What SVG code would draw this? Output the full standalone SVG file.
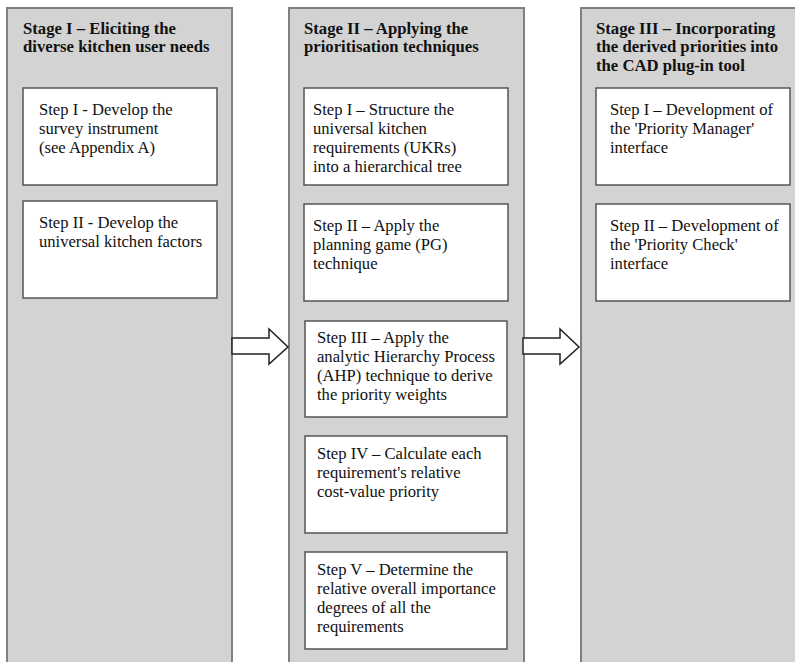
<svg xmlns="http://www.w3.org/2000/svg" width="795" height="662" viewBox="0 0 795 662">
<style>
.panel{fill:#d3d3d3;stroke:#808080;stroke-width:2}
.box{fill:#ffffff;stroke:#555555;stroke-width:1.5}
.title{font-family:"Liberation Serif","Times New Roman",serif;font-weight:bold;font-size:16.7px;fill:#111}
.txt{font-family:"Liberation Serif","Times New Roman",serif;font-size:16.6px;fill:#111}
.arrow{fill:#ffffff;stroke:#222;stroke-width:1.5;stroke-linejoin:miter}
</style>
<rect width="795" height="662" fill="#ffffff"/>
<g id="stage1">
<rect class="panel" x="7" y="8" width="225" height="660"/>
<text class="title" x="23" y="34">Stage I – Eliciting the</text>
<text class="title" x="23" y="52">diverse kitchen user needs</text>
</g>
<g id="s1step1">
<rect class="box" x="23" y="88" width="194" height="97"/>
<text class="txt" x="39" y="115">Step I - Develop the</text>
<text class="txt" x="39" y="134">survey instrument</text>
<text class="txt" x="39" y="153"> (see Appendix A)</text>
</g>
<g id="s1step2">
<rect class="box" x="23" y="201" width="194" height="97"/>
<text class="txt" x="39" y="228">Step II - Develop the</text>
<text class="txt" x="39" y="247">universal kitchen factors</text>
</g>
<g id="stage2">
<rect class="panel" x="289" y="8" width="235" height="660"/>
<text class="title" x="304" y="34">Stage II – Applying the</text>
<text class="title" x="304" y="52">prioritisation  techniques</text>
</g>
<g id="s2step1">
<rect class="box" x="304" y="88" width="204" height="97"/>
<text class="txt" x="313" y="115">Step I – Structure the</text>
<text class="txt" x="313" y="134">universal kitchen</text>
<text class="txt" x="313" y="153">requirements (UKRs)</text>
<text class="txt" x="313" y="172">into a hierarchical tree</text>
</g>
<g id="s2step2">
<rect class="box" x="304" y="204" width="204" height="97"/>
<text class="txt" x="313" y="231">Step II – Apply the</text>
<text class="txt" x="313" y="250">planning  game (PG)</text>
<text class="txt" x="313" y="269">technique</text>
</g>
<g id="s2step3">
<rect class="box" x="305" y="321" width="202" height="96"/>
<text class="txt" x="317" y="343">Step III – Apply the</text>
<text class="txt" x="317" y="362">analytic Hierarchy Process</text>
<text class="txt" x="317" y="381">(AHP) technique to derive</text>
<text class="txt" x="317" y="400">the priority weights</text>
</g>
<g id="s2step4">
<rect class="box" x="305" y="436" width="202" height="97"/>
<text class="txt" x="317" y="459">Step IV – Calculate each</text>
<text class="txt" x="317" y="478">requirement's relative</text>
<text class="txt" x="317" y="497">cost-value priority</text>
</g>
<g id="s2step5">
<rect class="box" x="305" y="552" width="202" height="97"/>
<text class="txt" x="317" y="575">Step V – Determine the</text>
<text class="txt" x="317" y="594">relative overall importance</text>
<text class="txt" x="317" y="613">degrees of all the</text>
<text class="txt" x="317" y="632">requirements</text>
</g>
<g id="stage3">
<rect class="panel" x="581" y="8" width="230" height="660"/>
<text class="title" x="596" y="34">Stage III – Incorporating</text>
<text class="title" x="596" y="52">the derived priorities into</text>
<text class="title" x="596" y="71">the CAD plug-in tool</text>
</g>
<g id="s3step1">
<rect class="box" x="596" y="88" width="194" height="97"/>
<text class="txt" x="610" y="115">Step I – Development of</text>
<text class="txt" x="610" y="134">the 'Priority Manager'</text>
<text class="txt" x="610" y="153">interface</text>
</g>
<g id="s3step2">
<rect class="box" x="596" y="204" width="194" height="97"/>
<text class="txt" x="610" y="231">Step II – Development of</text>
<text class="txt" x="610" y="250">the 'Priority Check'</text>
<text class="txt" x="610" y="269">interface</text>
</g>
<g id="connectors">
<polygon class="arrow" points="232,338 269,338 269,329 288,347 269,364 269,354 232,354"/>
<polygon class="arrow" points="523,338 560,338 560,329 579,347 560,364 560,354 523,354"/>
</g>
</svg>
